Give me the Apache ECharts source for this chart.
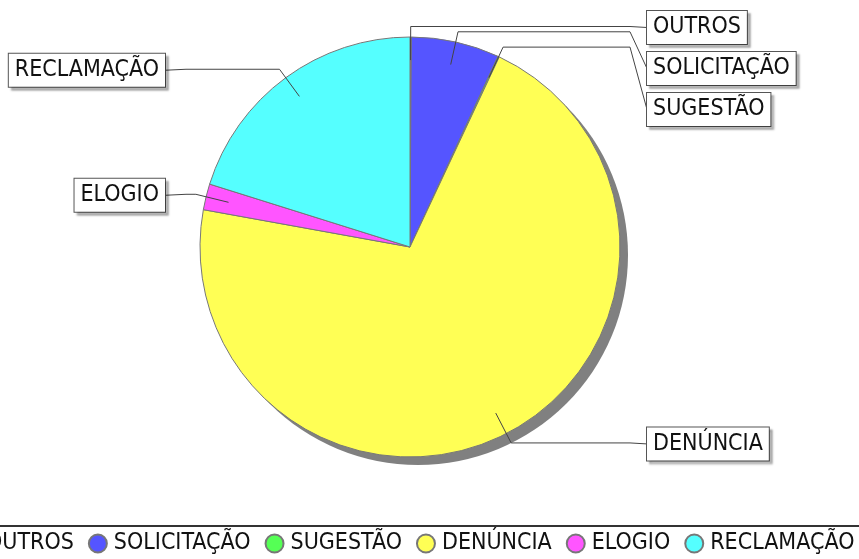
<!DOCTYPE html>
<html>
<head>
<meta charset="utf-8">
<script src="https://cdn.jsdelivr.net/npm/echarts@6/dist/echarts.min.js"></script>
<style>
    html, body { margin: 0; padding: 0; background: #fff; }
    #main { width: 859px; height: 559px; }
</style>
</head>
<body>
<div id="main"></div>
<script>
    var categories = ['OUTROS', 'SOLICITAÇÃO', 'SUGESTÃO', 'DENÚNCIA', 'ELOGIO', 'RECLAMAÇÃO'];
    var values = [1, 68, 1, 710, 20, 202];
    var colors = ['#ff5555', '#5555ff', '#55ff55', '#ffff55', '#ff55ff', '#55ffff'];

    var font = '"DejaVu Sans Condensed", "DejaVu Sans", sans-serif';
    var cx = 410, cy = 247, r = 210;
    var total = values.reduce(function (a, b) { return a + b; }, 0);

    // ângulo médio de cada fatia (sentido horário, a partir do topo)
    var mids = [];
    var acc = 0;
    values.forEach(function (v) {
        mids.push((acc + v / 2) / total * 2 * Math.PI);
        acc += v;
    });

    function pt(a, k) {
        return [cx + k * r * Math.sin(a), cy - k * r * Math.cos(a)];
    }

    // altura dos rótulos, empurrando para baixo quando se sobrepõem
    var labelY = [];
    [true, false].forEach(function (right) {
        var idx = mids.map(function (a, i) { return i; }).filter(function (i) {
            return (Math.sin(mids[i]) >= 0) === right;
        });
        idx.sort(function (a, b) { return pt(mids[a], 1.05)[1] - pt(mids[b], 1.05)[1]; });
        var last = -Infinity;
        idx.forEach(function (i) {
            var y = Math.max(pt(mids[i], 1.05)[1] + 1, last + 41);
            labelY[i] = y;
            last = y;
        });
    });

    var pieData = categories.map(function (c, i) { return { name: c, value: values[i] }; });

    var chart = echarts.init(document.getElementById('main'));
    var option = {
        animation: false,
        color: colors,
        legend: {
            data: categories,
            left: -50,
            top: 526,
            width: 1200,
            icon: 'circle',
            itemWidth: 18,
            itemHeight: 18,
            itemGap: 14,
            padding: [6, 10, 10, 10],
            borderColor: '#333',
            borderWidth: 2,
            textStyle: { fontFamily: font, fontSize: 23, color: '#111', padding: [0, 0, 0, 2] }
        },
        series: [
            {
                // sombra da pizza
                type: 'pie',
                silent: true,
                center: [cx + 8, cy + 8],
                radius: r,
                data: [{ value: total, name: 'sombra' }],
                label: { show: false },
                labelLine: { show: false },
                itemStyle: { color: '#808080' },
                z: 1
            },
            {
                type: 'pie',
                center: [cx, cy],
                radius: r,
                startAngle: 90,
                clockwise: true,
                z: 2,
                data: pieData,
                itemStyle: { borderColor: '#777', borderWidth: 1 },
                emphasis: { scale: false },
                label: { show: false },
                labelLine: { show: false }
            },
            {
                // rótulos por cima das fatias
                type: 'pie',
                silent: true,
                center: [cx, cy],
                radius: r,
                startAngle: 90,
                clockwise: true,
                avoidLabelOverlap: false,
                z: 3,
                data: pieData,
                itemStyle: { color: 'rgba(0,0,0,0)', borderWidth: 0 },
                label: {
                    show: true,
                    position: 'outside',
                    formatter: '{b}',
                    fontFamily: font,
                    fontSize: 23,
                    lineHeight: 27,
                    color: '#111',
                    backgroundColor: '#fff',
                    borderColor: '#555',
                    borderWidth: 1,
                    padding: [3, 6],
                    shadowColor: 'rgba(0,0,0,0.25)',
                    shadowBlur: 2,
                    shadowOffsetX: 3,
                    shadowOffsetY: 3
                },
                labelLine: { show: true, lineStyle: { color: '#444', width: 1 } },
                labelLayout: function (params) {
                    var i = params.dataIndex;
                    var right = Math.sin(mids[i]) >= 0;
                    var p1 = pt(mids[i], 1.05);
                    var x = right ? 647 : 165;
                    return {
                        x: x,
                        y: labelY[i],
                        align: right ? 'left' : 'right',
                        verticalAlign: 'middle',
                        labelLinePoints: [pt(mids[i], 0.89), p1, [right ? 630 : 186, p1[1]], [x, labelY[i]]]
                    };
                }
            }
        ]
    };
    chart.setOption(option);
</script>
</body>
</html>
